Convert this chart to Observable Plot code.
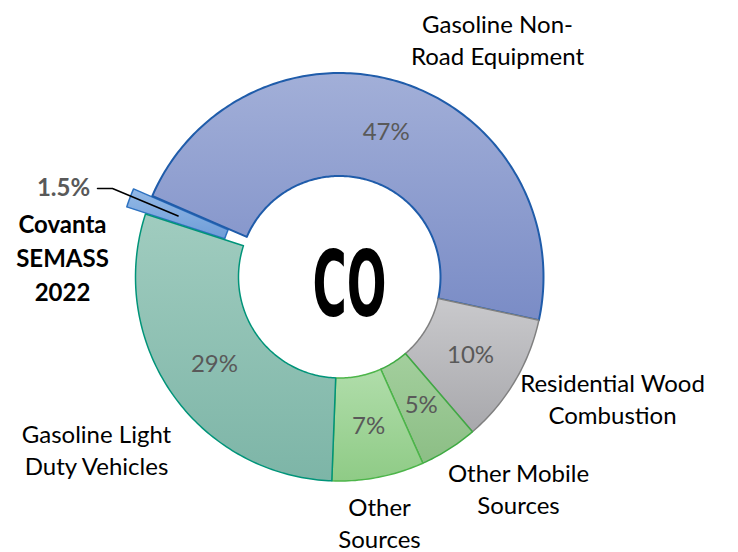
<!DOCTYPE html>
<html><head><meta charset="utf-8">
<script src="https://cdn.jsdelivr.net/npm/d3@7"></script>
<script src="https://cdn.jsdelivr.net/npm/@observablehq/plot@0.6"></script>
<style>html,body{margin:0;padding:0;background:#fff}#chart{width:738px;height:552px}</style>
</head><body><div id="chart"></div>
<script>
// ---- data ----
const categories = ["Covanta SEMASS 2022", "Gasoline Non-Road Equipment", "Residential Wood Combustion", "Other Mobile Sources", "Other Sources", "Gasoline Light Duty Vehicles"];
const values = [1.5, 46.9, 10.3, 4.6, 7.3, 29.4];
const pctLabels = ["1.5%", "47%", "10%", "5%", "7%", "29%"];
const displayLabels = ["Covanta\nSEMASS\n2022", "Gasoline Non-\nRoad Equipment", "Residential Wood\nCombustion", "Other Mobile\nSources", "Other\nSources", "Gasoline Light\nDuty Vehicles"];
const centerLabel = "CO";

// ---- layout / style ----
const W = 738, H = 552, CX = 339, CY = 276.5;
const R = 204, r0 = 101;
const startDeg = 288;
const explode = [20, 0, 0, 0, 0, 0];
const labelPos = [[62, 256], [497, 38], [612, 397], [518, 487], [379, 521], [96, 448]];
const covPctPos = [63, 188];
const leaderStart = [[97, 188], [112, 188]];
const coPos = [349, 287];
const styles = [
  {top: "#93B9E6", bot: "#6F9DD8", stroke: "#2E72C0", sw: 1.5},
  {top: "#A2AFD8", bot: "#7A8CC6", stroke: "#1F5CAA", sw: 2},
  {top: "#C9C9CC", bot: "#A8A8AC", stroke: "#808080", sw: 1.5},
  {top: "#A3CF9D", bot: "#8CBE85", stroke: "#3FAA43", sw: 1.5},
  {top: "#B0DDAA", bot: "#8FCB86", stroke: "#4DB54A", sw: 1.5},
  {top: "#A0CCBF", bot: "#7DB5A7", stroke: "#009479", sw: 1.5}
];
const FONT = "Lato, 'Open Sans', sans-serif";

// ---- geometry from data ----
const pie = d3.pie().sort(null).value(d => d)
  .startAngle(startDeg * Math.PI / 180).endAngle(startDeg * Math.PI / 180 + 2 * Math.PI);
const arcs = pie(values);
const arcGen = d3.arc().innerRadius(r0).outerRadius(R);
const polys = arcs.map((a, i) => {
  const mid = (a.startAngle + a.endAngle) / 2;
  const ox = explode[i] * Math.sin(mid), oy = -explode[i] * Math.cos(mid);
  const pts = [];
  const N = Math.max(8, Math.ceil((a.endAngle - a.startAngle) * 60));
  for (let k = 0; k <= N; k++) {
    const t = a.startAngle + (a.endAngle - a.startAngle) * k / N;
    pts.push({x: ox + R * Math.sin(t), y: oy - R * Math.cos(t)});
  }
  for (let k = N; k >= 0; k--) {
    const t = a.startAngle + (a.endAngle - a.startAngle) * k / N;
    pts.push({x: ox + r0 * Math.sin(t), y: oy - r0 * Math.cos(t)});
  }
  pts.push(pts[0]);
  const c = arcGen.centroid(a);
  return {pts, cx: c[0] + ox, cy: c[1] + oy};
});

const toX = px => px - CX, toY = py => py - CY;

const pctData = arcs.map((a, i) => ({i, x: polys[i].cx, y: polys[i].cy, t: pctLabels[i]})).filter(d => d.i !== 0);
const outerData = displayLabels.map((t, i) => ({t, x: toX(labelPos[i][0]), y: toY(labelPos[i][1]), bold: i === 0}));
const leader = leaderStart.map(p => ({x: toX(p[0]), y: toY(p[1])})).concat([{x: polys[0].cx, y: polys[0].cy}]);

const defs = () => {
  const ns = "http://www.w3.org/2000/svg";
  const d = document.createElementNS(ns, "defs");
  styles.forEach((s, i) => {
    const g = document.createElementNS(ns, "linearGradient");
    g.setAttribute("id", "grad" + i);
    g.setAttribute("x1", "0"); g.setAttribute("y1", "0"); g.setAttribute("x2", "0"); g.setAttribute("y2", "1");
    [[0, s.top], [1, s.bot]].forEach(([o, c]) => {
      const st = document.createElementNS(ns, "stop");
      st.setAttribute("offset", o); st.setAttribute("stop-color", c);
      g.appendChild(st);
    });
    d.appendChild(g);
  });
  return d;
};

const sliceMarks = polys.map((p, i) => Plot.line(p.pts, {
  x: "x", y: "y", fill: `url(#grad${i})`, stroke: styles[i].stroke, strokeWidth: styles[i].sw, curve: "linear"
}));

const plot = Plot.plot({
  width: W, height: H,
  margin: 0,
  x: {domain: [-CX, W - CX], range: [0, W], axis: null},
  y: {domain: [-CY, H - CY], range: [0, H], axis: null},
  style: {background: "#fff", fontFamily: FONT},
  marks: [
    defs,
    ...sliceMarks,
    Plot.line(leader, {x: "x", y: "y", stroke: "#000", strokeWidth: 1.5}),
    Plot.text(pctData, {x: "x", y: "y", text: "t", fill: "#595959", fontSize: 24, fontFamily: FONT}),
    Plot.text(outerData.filter(d => !d.bold), {x: "x", y: "y", text: "t", fill: "#000", fontSize: 24, lineHeight: 1.33, lineAnchor: "middle", fontFamily: FONT}),
    Plot.text(outerData.filter(d => d.bold), {x: "x", y: "y", text: "t", fill: "#000", fontSize: 24, fontWeight: "bold", lineHeight: 1.42, lineAnchor: "middle", fontFamily: FONT}),
    Plot.text([pctLabels[0]], {x: () => toX(covPctPos[0]), y: () => toY(covPctPos[1]), text: d => d, fill: "#595959", fontSize: 24, fontWeight: "bold", fontFamily: FONT}),
    Plot.text([centerLabel], {x: () => toX(coPos[0]), y: () => toY(coPos[1]), text: d => d, fill: "#000", fontSize: 90, fontWeight: "bold", fontFamily: "'DejaVu Sans Condensed', 'DejaVu Sans', sans-serif"})
  ]
});
plot.querySelectorAll("text").forEach(t => {
  if (t.textContent === centerLabel) {
    t.setAttribute("textLength", "74");
    t.setAttribute("lengthAdjust", "spacingAndGlyphs");
  }
});
document.getElementById("chart").appendChild(plot);
</script>
</body></html>
